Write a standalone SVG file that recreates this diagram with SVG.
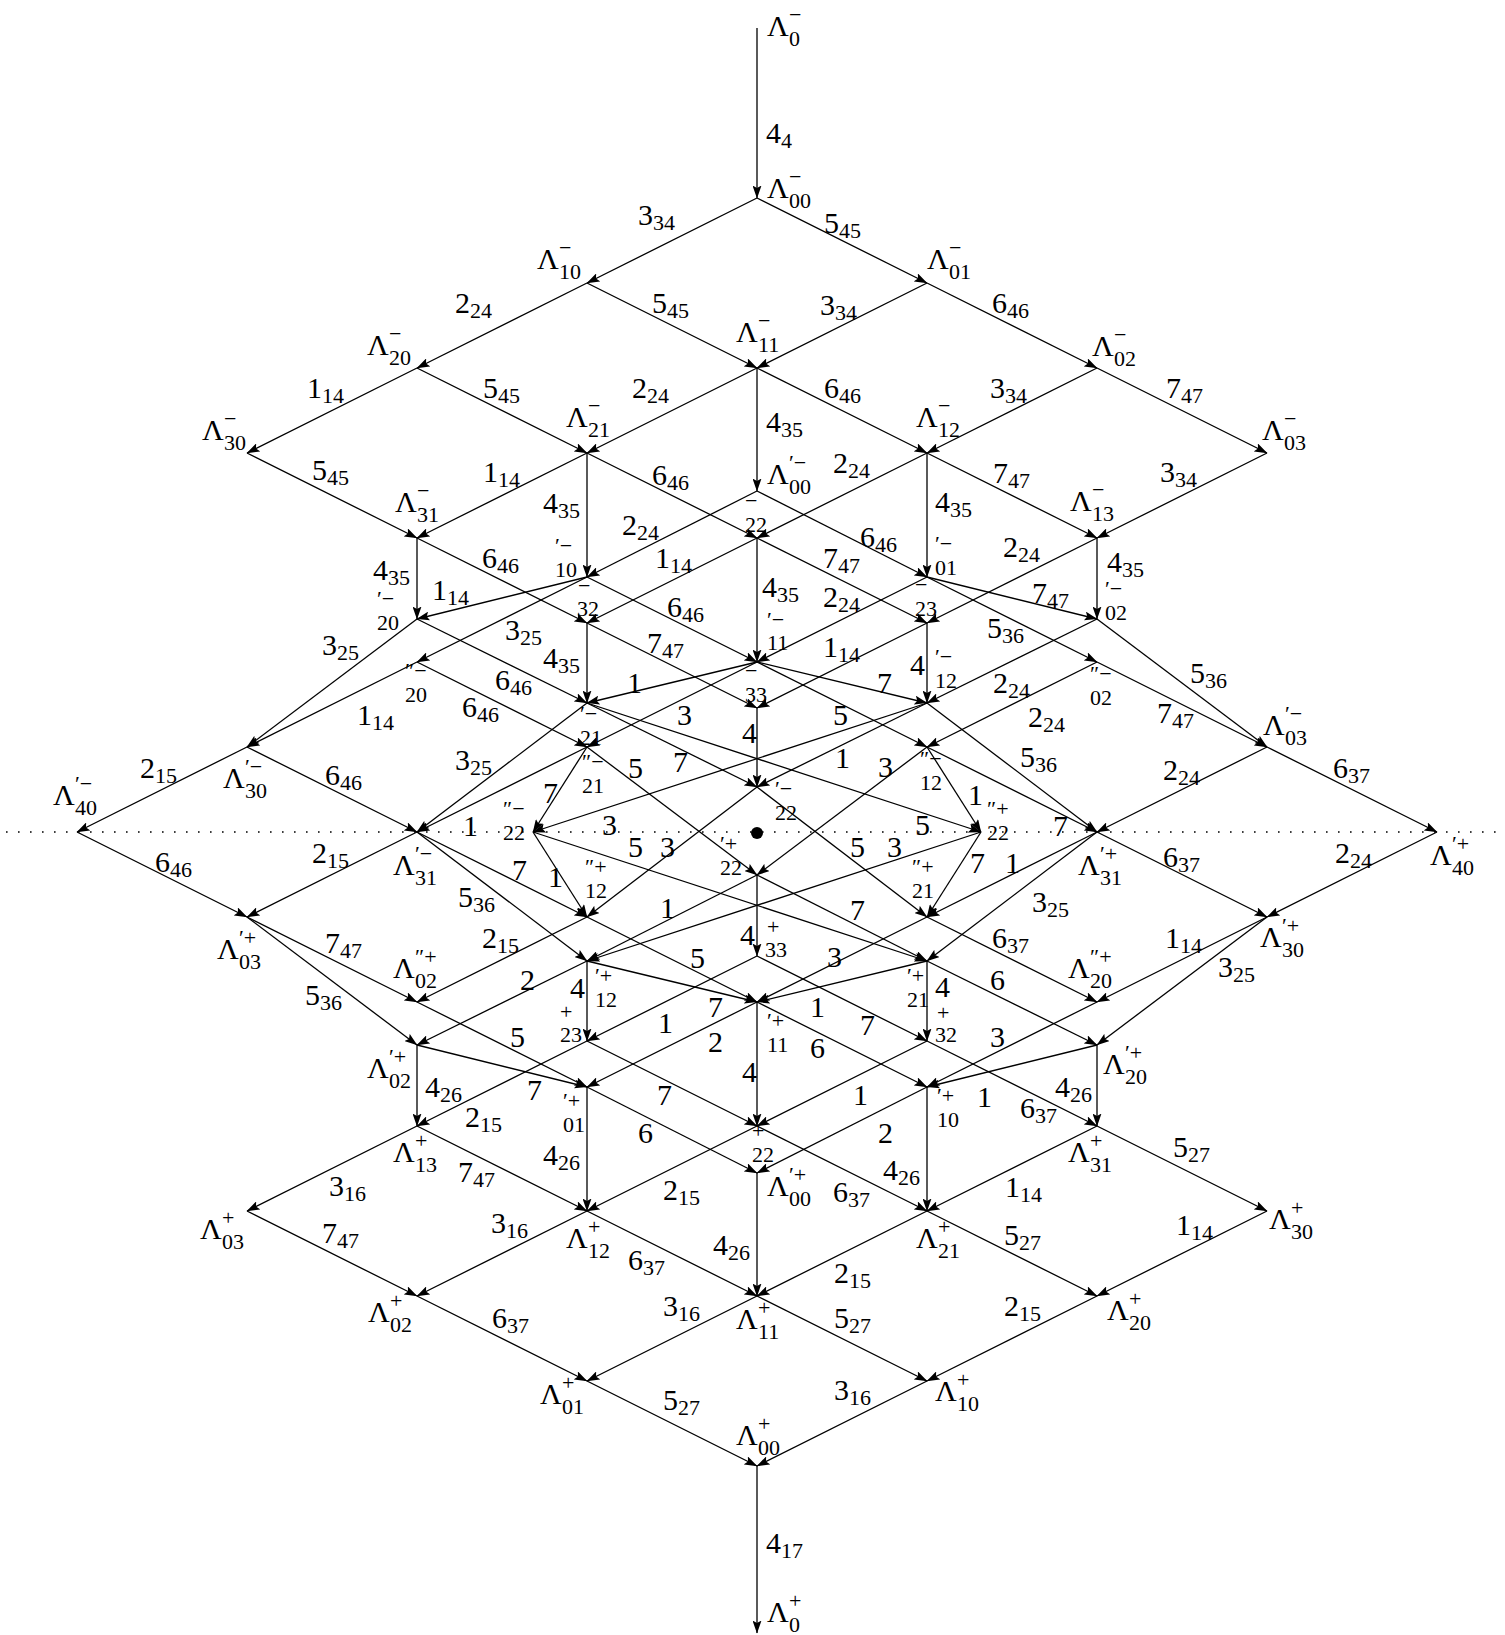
<svg xmlns="http://www.w3.org/2000/svg" width="1505" height="1635" viewBox="0 0 1505 1635" font-family="'Liberation Serif', 'DejaVu Serif', serif">
<style>
text{font-family:"Liberation Serif","DejaVu Serif",serif;fill:#000}
.m{font-size:30px}
.s{font-size:22px}
#edges line{stroke:#000;stroke-width:1.3;marker-end:url(#ah)}
</style>
<defs>
<marker id="ah" markerUnits="userSpaceOnUse" markerWidth="13" markerHeight="9" refX="12.5" refY="4.5" orient="auto" viewBox="0 0 13 9"><path d="M0,0 L13,4.5 L0,9 L2.5,4.5 Z" fill="#000"/></marker>
</defs>
<rect width="1505" height="1635" fill="#fff"/>
<line x1="6" y1="832" x2="1500" y2="832" stroke="#000" stroke-width="1.6" stroke-dasharray="1.6 10.4"/>
<circle cx="757" cy="833" r="6" fill="#000"/>
<g id="edges">
<line x1="757" y1="28" x2="757" y2="198"/>
<line x1="757" y1="198" x2="587" y2="283"/>
<line x1="757" y1="198" x2="927" y2="283"/>
<line x1="587" y1="283" x2="417" y2="368"/>
<line x1="587" y1="283" x2="757" y2="368"/>
<line x1="927" y1="283" x2="757" y2="368"/>
<line x1="927" y1="283" x2="1097" y2="368"/>
<line x1="417" y1="368" x2="247" y2="453"/>
<line x1="417" y1="368" x2="587" y2="453"/>
<line x1="757" y1="368" x2="587" y2="453"/>
<line x1="757" y1="368" x2="927" y2="453"/>
<line x1="1097" y1="368" x2="927" y2="453"/>
<line x1="1097" y1="368" x2="1267" y2="453"/>
<line x1="757" y1="368" x2="757" y2="491"/>
<line x1="247" y1="453" x2="417" y2="538"/>
<line x1="587" y1="453" x2="417" y2="538"/>
<line x1="587" y1="453" x2="757" y2="538"/>
<line x1="927" y1="453" x2="757" y2="538"/>
<line x1="927" y1="453" x2="1097" y2="538"/>
<line x1="1267" y1="453" x2="1097" y2="538"/>
<line x1="587" y1="453" x2="587" y2="577"/>
<line x1="927" y1="453" x2="927" y2="577"/>
<line x1="757" y1="491" x2="587" y2="577"/>
<line x1="757" y1="491" x2="927" y2="577"/>
<line x1="417" y1="538" x2="417" y2="619"/>
<line x1="1097" y1="538" x2="1097" y2="619"/>
<line x1="417" y1="538" x2="587" y2="623"/>
<line x1="1097" y1="538" x2="927" y2="623"/>
<line x1="757" y1="538" x2="587" y2="623"/>
<line x1="757" y1="538" x2="927" y2="623"/>
<line x1="757" y1="538" x2="757" y2="662"/>
<line x1="587" y1="577" x2="417" y2="619"/>
<line x1="927" y1="577" x2="1097" y2="619"/>
<line x1="587" y1="577" x2="757" y2="662"/>
<line x1="927" y1="577" x2="757" y2="662"/>
<line x1="587" y1="577" x2="417" y2="662"/>
<line x1="927" y1="577" x2="1097" y2="662"/>
<line x1="587" y1="623" x2="587" y2="703"/>
<line x1="927" y1="623" x2="927" y2="703"/>
<line x1="587" y1="623" x2="757" y2="708"/>
<line x1="927" y1="623" x2="757" y2="708"/>
<line x1="417" y1="619" x2="587" y2="703"/>
<line x1="1097" y1="619" x2="927" y2="703"/>
<line x1="417" y1="662" x2="587" y2="747"/>
<line x1="1097" y1="662" x2="927" y2="747"/>
<line x1="417" y1="619" x2="247" y2="747"/>
<line x1="417" y1="662" x2="247" y2="747"/>
<line x1="1097" y1="619" x2="1267" y2="747"/>
<line x1="1097" y1="662" x2="1267" y2="747"/>
<line x1="757" y1="662" x2="587" y2="703"/>
<line x1="757" y1="662" x2="927" y2="703"/>
<line x1="757" y1="662" x2="587" y2="747"/>
<line x1="757" y1="662" x2="927" y2="747"/>
<line x1="757" y1="708" x2="757" y2="787"/>
<line x1="587" y1="747" x2="757" y2="875"/>
<line x1="587" y1="703" x2="757" y2="787"/>
<line x1="927" y1="703" x2="757" y2="787"/>
<line x1="927" y1="747" x2="757" y2="875"/>
<line x1="587" y1="703" x2="417" y2="832"/>
<line x1="587" y1="747" x2="417" y2="832"/>
<line x1="587" y1="747" x2="533" y2="832"/>
<line x1="927" y1="703" x2="533" y2="832"/>
<line x1="927" y1="703" x2="1097" y2="832"/>
<line x1="927" y1="747" x2="1097" y2="832"/>
<line x1="927" y1="747" x2="981" y2="832"/>
<line x1="587" y1="703" x2="981" y2="832"/>
<line x1="247" y1="747" x2="417" y2="832"/>
<line x1="247" y1="747" x2="77" y2="832"/>
<line x1="1267" y1="747" x2="1097" y2="832"/>
<line x1="1267" y1="747" x2="1437" y2="832"/>
<line x1="77" y1="832" x2="247" y2="917"/>
<line x1="417" y1="832" x2="247" y2="917"/>
<line x1="417" y1="832" x2="587" y2="917"/>
<line x1="533" y1="832" x2="587" y2="917"/>
<line x1="533" y1="832" x2="927" y2="961"/>
<line x1="757" y1="787" x2="587" y2="917"/>
<line x1="757" y1="787" x2="927" y2="917"/>
<line x1="981" y1="832" x2="587" y2="961"/>
<line x1="981" y1="832" x2="927" y2="917"/>
<line x1="1097" y1="832" x2="927" y2="917"/>
<line x1="1097" y1="832" x2="1267" y2="917"/>
<line x1="1437" y1="832" x2="1267" y2="917"/>
<line x1="417" y1="832" x2="587" y2="961"/>
<line x1="1097" y1="832" x2="927" y2="961"/>
<line x1="757" y1="875" x2="587" y2="961"/>
<line x1="757" y1="875" x2="927" y2="961"/>
<line x1="757" y1="875" x2="757" y2="956"/>
<line x1="587" y1="917" x2="417" y2="1002"/>
<line x1="927" y1="917" x2="1097" y2="1002"/>
<line x1="247" y1="917" x2="417" y2="1002"/>
<line x1="1267" y1="917" x2="1097" y2="1002"/>
<line x1="587" y1="917" x2="757" y2="1002"/>
<line x1="927" y1="917" x2="757" y2="1002"/>
<line x1="587" y1="961" x2="417" y2="1045"/>
<line x1="927" y1="961" x2="1097" y2="1045"/>
<line x1="587" y1="961" x2="587" y2="1041"/>
<line x1="927" y1="961" x2="927" y2="1041"/>
<line x1="247" y1="917" x2="417" y2="1045"/>
<line x1="1267" y1="917" x2="1097" y2="1045"/>
<line x1="417" y1="1002" x2="587" y2="1087"/>
<line x1="1097" y1="1002" x2="927" y2="1087"/>
<line x1="587" y1="961" x2="757" y2="1002"/>
<line x1="927" y1="961" x2="757" y2="1002"/>
<line x1="757" y1="956" x2="587" y2="1041"/>
<line x1="757" y1="956" x2="927" y2="1041"/>
<line x1="757" y1="1002" x2="587" y2="1087"/>
<line x1="757" y1="1002" x2="927" y2="1087"/>
<line x1="417" y1="1045" x2="587" y2="1087"/>
<line x1="1097" y1="1045" x2="927" y2="1087"/>
<line x1="757" y1="1002" x2="757" y2="1126"/>
<line x1="417" y1="1045" x2="417" y2="1126"/>
<line x1="1097" y1="1045" x2="1097" y2="1126"/>
<line x1="587" y1="1041" x2="757" y2="1126"/>
<line x1="927" y1="1041" x2="757" y2="1126"/>
<line x1="927" y1="1041" x2="1097" y2="1126"/>
<line x1="587" y1="1041" x2="417" y2="1126"/>
<line x1="587" y1="1087" x2="757" y2="1173"/>
<line x1="927" y1="1087" x2="757" y2="1173"/>
<line x1="587" y1="1087" x2="587" y2="1211"/>
<line x1="927" y1="1087" x2="927" y2="1211"/>
<line x1="417" y1="1126" x2="587" y2="1211"/>
<line x1="417" y1="1126" x2="247" y2="1211"/>
<line x1="1097" y1="1126" x2="927" y2="1211"/>
<line x1="1097" y1="1126" x2="1267" y2="1211"/>
<line x1="757" y1="1126" x2="587" y2="1211"/>
<line x1="757" y1="1126" x2="927" y2="1211"/>
<line x1="757" y1="1173" x2="757" y2="1296"/>
<line x1="247" y1="1211" x2="417" y2="1296"/>
<line x1="587" y1="1211" x2="417" y2="1296"/>
<line x1="587" y1="1211" x2="757" y2="1296"/>
<line x1="927" y1="1211" x2="757" y2="1296"/>
<line x1="927" y1="1211" x2="1097" y2="1296"/>
<line x1="1267" y1="1211" x2="1097" y2="1296"/>
<line x1="417" y1="1296" x2="587" y2="1381"/>
<line x1="757" y1="1296" x2="587" y2="1381"/>
<line x1="757" y1="1296" x2="927" y2="1381"/>
<line x1="1097" y1="1296" x2="927" y2="1381"/>
<line x1="587" y1="1381" x2="757" y2="1466"/>
<line x1="927" y1="1381" x2="757" y2="1466"/>
<line x1="757" y1="1466" x2="757" y2="1633"/>
</g>
<g id="edge-labels" class="m">
<text x="766" y="143">4<tspan class="s" dy="5">4</tspan></text>
<text x="638" y="225">3<tspan class="s" dy="5">34</tspan></text>
<text x="824" y="233">5<tspan class="s" dy="5">45</tspan></text>
<text x="455" y="313">2<tspan class="s" dy="5">24</tspan></text>
<text x="652" y="313">5<tspan class="s" dy="5">45</tspan></text>
<text x="820" y="315">3<tspan class="s" dy="5">34</tspan></text>
<text x="992" y="313">6<tspan class="s" dy="5">46</tspan></text>
<text x="307" y="398">1<tspan class="s" dy="5">14</tspan></text>
<text x="483" y="398">5<tspan class="s" dy="5">45</tspan></text>
<text x="632" y="398">2<tspan class="s" dy="5">24</tspan></text>
<text x="824" y="398">6<tspan class="s" dy="5">46</tspan></text>
<text x="990" y="398">3<tspan class="s" dy="5">34</tspan></text>
<text x="1166" y="398">7<tspan class="s" dy="5">47</tspan></text>
<text x="766" y="432">4<tspan class="s" dy="5">35</tspan></text>
<text x="312" y="480">5<tspan class="s" dy="5">45</tspan></text>
<text x="483" y="482">1<tspan class="s" dy="5">14</tspan></text>
<text x="652" y="485">6<tspan class="s" dy="5">46</tspan></text>
<text x="833" y="473">2<tspan class="s" dy="5">24</tspan></text>
<text x="993" y="483">7<tspan class="s" dy="5">47</tspan></text>
<text x="1160" y="482">3<tspan class="s" dy="5">34</tspan></text>
<text x="543" y="513">4<tspan class="s" dy="5">35</tspan></text>
<text x="935" y="512">4<tspan class="s" dy="5">35</tspan></text>
<text x="622" y="535">2<tspan class="s" dy="5">24</tspan></text>
<text x="860" y="547">6<tspan class="s" dy="5">46</tspan></text>
<text x="373" y="580">4<tspan class="s" dy="5">35</tspan></text>
<text x="1107" y="572">4<tspan class="s" dy="5">35</tspan></text>
<text x="482" y="568">6<tspan class="s" dy="5">46</tspan></text>
<text x="1003" y="557">2<tspan class="s" dy="5">24</tspan></text>
<text x="655" y="568">1<tspan class="s" dy="5">14</tspan></text>
<text x="823" y="568">7<tspan class="s" dy="5">47</tspan></text>
<text x="762" y="597">4<tspan class="s" dy="5">35</tspan></text>
<text x="432" y="600">1<tspan class="s" dy="5">14</tspan></text>
<text x="1032" y="603">7<tspan class="s" dy="5">47</tspan></text>
<text x="667" y="617">6<tspan class="s" dy="5">46</tspan></text>
<text x="823" y="607">2<tspan class="s" dy="5">24</tspan></text>
<text x="505" y="640">3<tspan class="s" dy="5">25</tspan></text>
<text x="987" y="638">5<tspan class="s" dy="5">36</tspan></text>
<text x="543" y="668">4<tspan class="s" dy="5">35</tspan></text>
<text x="910" y="675">4</text>
<text x="647" y="653">7<tspan class="s" dy="5">47</tspan></text>
<text x="823" y="657">1<tspan class="s" dy="5">14</tspan></text>
<text x="495" y="690">6<tspan class="s" dy="5">46</tspan></text>
<text x="993" y="693">2<tspan class="s" dy="5">24</tspan></text>
<text x="462" y="717">6<tspan class="s" dy="5">46</tspan></text>
<text x="1028" y="727">2<tspan class="s" dy="5">24</tspan></text>
<text x="322" y="655">3<tspan class="s" dy="5">25</tspan></text>
<text x="357" y="725">1<tspan class="s" dy="5">14</tspan></text>
<text x="1190" y="683">5<tspan class="s" dy="5">36</tspan></text>
<text x="1157" y="723">7<tspan class="s" dy="5">47</tspan></text>
<text x="627" y="693">1</text>
<text x="877" y="693">7</text>
<text x="677" y="725">3</text>
<text x="833" y="725">5</text>
<text x="742" y="743">4</text>
<text x="628" y="778">5</text>
<text x="673" y="772">7</text>
<text x="835" y="768">1</text>
<text x="878" y="777">3</text>
<text x="455" y="770">3<tspan class="s" dy="5">25</tspan></text>
<text x="463" y="836">1</text>
<text x="543" y="803">7</text>
<text x="602" y="835">3</text>
<text x="1020" y="767">5<tspan class="s" dy="5">36</tspan></text>
<text x="1053" y="836">7</text>
<text x="968" y="805">1</text>
<text x="915" y="835">5</text>
<text x="325" y="785">6<tspan class="s" dy="5">46</tspan></text>
<text x="140" y="778">2<tspan class="s" dy="5">15</tspan></text>
<text x="1163" y="780">2<tspan class="s" dy="5">24</tspan></text>
<text x="1333" y="778">6<tspan class="s" dy="5">37</tspan></text>
<text x="155" y="872">6<tspan class="s" dy="5">46</tspan></text>
<text x="312" y="863">2<tspan class="s" dy="5">15</tspan></text>
<text x="512" y="880">7</text>
<text x="548" y="887">1</text>
<text x="628" y="857">5</text>
<text x="660" y="857">3</text>
<text x="850" y="857">5</text>
<text x="887" y="857">3</text>
<text x="970" y="873">7</text>
<text x="1005" y="873">1</text>
<text x="1163" y="867">6<tspan class="s" dy="5">37</tspan></text>
<text x="1335" y="863">2<tspan class="s" dy="5">24</tspan></text>
<text x="458" y="907">5<tspan class="s" dy="5">36</tspan></text>
<text x="1032" y="912">3<tspan class="s" dy="5">25</tspan></text>
<text x="660" y="918">1</text>
<text x="850" y="920">7</text>
<text x="740" y="945">4</text>
<text x="482" y="948">2<tspan class="s" dy="5">15</tspan></text>
<text x="992" y="948">6<tspan class="s" dy="5">37</tspan></text>
<text x="325" y="953">7<tspan class="s" dy="5">47</tspan></text>
<text x="1165" y="948">1<tspan class="s" dy="5">14</tspan></text>
<text x="690" y="968">5</text>
<text x="827" y="967">3</text>
<text x="520" y="990">2</text>
<text x="990" y="990">6</text>
<text x="570" y="998">4</text>
<text x="935" y="997">4</text>
<text x="305" y="1005">5<tspan class="s" dy="5">36</tspan></text>
<text x="1218" y="977">3<tspan class="s" dy="5">25</tspan></text>
<text x="510" y="1047">5</text>
<text x="990" y="1047">3</text>
<text x="708" y="1017">7</text>
<text x="810" y="1017">1</text>
<text x="658" y="1033">1</text>
<text x="860" y="1035">7</text>
<text x="708" y="1052">2</text>
<text x="810" y="1058">6</text>
<text x="527" y="1100">7</text>
<text x="977" y="1107">1</text>
<text x="742" y="1082">4</text>
<text x="425" y="1097">4<tspan class="s" dy="5">26</tspan></text>
<text x="1055" y="1097">4<tspan class="s" dy="5">26</tspan></text>
<text x="657" y="1105">7</text>
<text x="853" y="1105">1</text>
<text x="1020" y="1118">6<tspan class="s" dy="5">37</tspan></text>
<text x="465" y="1127">2<tspan class="s" dy="5">15</tspan></text>
<text x="638" y="1143">6</text>
<text x="878" y="1143">2</text>
<text x="543" y="1165">4<tspan class="s" dy="5">26</tspan></text>
<text x="883" y="1180">4<tspan class="s" dy="5">26</tspan></text>
<text x="458" y="1182">7<tspan class="s" dy="5">47</tspan></text>
<text x="329" y="1196">3<tspan class="s" dy="5">16</tspan></text>
<text x="1005" y="1197">1<tspan class="s" dy="5">14</tspan></text>
<text x="1173" y="1157">5<tspan class="s" dy="5">27</tspan></text>
<text x="663" y="1200">2<tspan class="s" dy="5">15</tspan></text>
<text x="833" y="1202">6<tspan class="s" dy="5">37</tspan></text>
<text x="713" y="1255">4<tspan class="s" dy="5">26</tspan></text>
<text x="322" y="1243">7<tspan class="s" dy="5">47</tspan></text>
<text x="491" y="1233">3<tspan class="s" dy="5">16</tspan></text>
<text x="628" y="1270">6<tspan class="s" dy="5">37</tspan></text>
<text x="834" y="1283">2<tspan class="s" dy="5">15</tspan></text>
<text x="1004" y="1245">5<tspan class="s" dy="5">27</tspan></text>
<text x="1176" y="1235">1<tspan class="s" dy="5">14</tspan></text>
<text x="492" y="1328">6<tspan class="s" dy="5">37</tspan></text>
<text x="663" y="1316">3<tspan class="s" dy="5">16</tspan></text>
<text x="834" y="1328">5<tspan class="s" dy="5">27</tspan></text>
<text x="1004" y="1316">2<tspan class="s" dy="5">15</tspan></text>
<text x="663" y="1410">5<tspan class="s" dy="5">27</tspan></text>
<text x="834" y="1400">3<tspan class="s" dy="5">16</tspan></text>
<text x="766" y="1553">4<tspan class="s" dy="5">17</tspan></text>
</g>
<g id="n0m"><text class="m" x="767" y="36">Λ</text><text class="s" x="789" y="46">0</text><text class="s" x="789" y="22">−</text></g>
<g id="n00m"><text class="m" x="767" y="198">Λ</text><text class="s" x="789" y="208">00</text><text class="s" x="789" y="184">−</text></g>
<g id="n10m"><text class="m" x="537" y="269">Λ</text><text class="s" x="559" y="279">10</text><text class="s" x="559" y="255">−</text></g>
<g id="n01m"><text class="m" x="927" y="269">Λ</text><text class="s" x="949" y="279">01</text><text class="s" x="949" y="255">−</text></g>
<g id="n20m"><text class="m" x="367" y="355">Λ</text><text class="s" x="389" y="365">20</text><text class="s" x="389" y="341">−</text></g>
<g id="n11m"><text class="m" x="736" y="342">Λ</text><text class="s" x="758" y="352">11</text><text class="s" x="758" y="328">−</text></g>
<g id="n02m"><text class="m" x="1092" y="356">Λ</text><text class="s" x="1114" y="366">02</text><text class="s" x="1114" y="342">−</text></g>
<g id="n30m"><text class="m" x="202" y="440">Λ</text><text class="s" x="224" y="450">30</text><text class="s" x="224" y="426">−</text></g>
<g id="n21m"><text class="m" x="566" y="427">Λ</text><text class="s" x="588" y="437">21</text><text class="s" x="588" y="413">−</text></g>
<g id="n12m"><text class="m" x="916" y="427">Λ</text><text class="s" x="938" y="437">12</text><text class="s" x="938" y="413">−</text></g>
<g id="n03m"><text class="m" x="1262" y="440">Λ</text><text class="s" x="1284" y="450">03</text><text class="s" x="1284" y="426">−</text></g>
<g id="nP00m"><text class="m" x="767" y="484">Λ</text><text class="s" x="789" y="494">00</text><text class="s" x="789" y="470">′−</text></g>
<g id="n31m"><text class="m" x="395" y="512">Λ</text><text class="s" x="417" y="522">31</text><text class="s" x="417" y="498">−</text></g>
<g id="n22m"><text class="s" x="745" y="532">22</text><text class="s" x="745" y="508">−</text></g>
<g id="n13m"><text class="m" x="1070" y="511">Λ</text><text class="s" x="1092" y="521">13</text><text class="s" x="1092" y="497">−</text></g>
<g id="nP10m"><text class="s" x="555" y="577">10</text><text class="s" x="555" y="553">′−</text></g>
<g id="nP01m"><text class="s" x="935" y="575">01</text><text class="s" x="935" y="551">′−</text></g>
<g id="n32m"><text class="s" x="577" y="616">32</text><text class="s" x="578" y="593">−</text></g>
<g id="nP20m"><text class="s" x="377" y="630">20</text><text class="s" x="377" y="606">′−</text></g>
<g id="nP11m"><text class="s" x="767" y="650">11</text><text class="s" x="767" y="627">′−</text></g>
<g id="n23m"><text class="s" x="915" y="616">23</text><text class="s" x="915" y="592">−</text></g>
<g id="nP02m"><text class="s" x="1105" y="620">02</text><text class="s" x="1105" y="596">′−</text></g>
<g id="nQ20m"><text class="s" x="405" y="702">20</text><text class="s" x="405" y="678">″−</text></g>
<g id="nQ02m"><text class="s" x="1090" y="705">02</text><text class="s" x="1090" y="681">″−</text></g>
<g id="n33m"><text class="s" x="745" y="702">33</text><text class="s" x="745" y="678">−</text></g>
<g id="nP21m"><text class="s" x="580" y="745">21</text><text class="s" x="580" y="721">′−</text></g>
<g id="nP12m"><text class="s" x="935" y="688">12</text><text class="s" x="935" y="664">′−</text></g>
<g id="nQ21m"><text class="s" x="582" y="793">21</text><text class="s" x="582" y="769">″−</text></g>
<g id="nQ12m"><text class="s" x="920" y="790">12</text><text class="s" x="920" y="766">″−</text></g>
<g id="nP22m"><text class="s" x="775" y="820">22</text><text class="s" x="775" y="796">′−</text></g>
<g id="nP30m"><text class="m" x="223" y="788">Λ</text><text class="s" x="245" y="798">30</text><text class="s" x="245" y="774">′−</text></g>
<g id="nP40m"><text class="m" x="53" y="805">Λ</text><text class="s" x="75" y="815">40</text><text class="s" x="75" y="791">′−</text></g>
<g id="nP03m"><text class="m" x="1263" y="735">Λ</text><text class="s" x="1285" y="745">03</text><text class="s" x="1285" y="721">′−</text></g>
<g id="nP31m"><text class="m" x="393" y="875">Λ</text><text class="s" x="415" y="885">31</text><text class="s" x="415" y="861">′−</text></g>
<g id="nQ22m"><text class="s" x="503" y="840">22</text><text class="s" x="503" y="816">″−</text></g>
<g id="nQ22p"><text class="s" x="987" y="840">22</text><text class="s" x="987" y="816">″+</text></g>
<g id="nP31p"><text class="m" x="1078" y="875">Λ</text><text class="s" x="1100" y="885">31</text><text class="s" x="1100" y="861">′+</text></g>
<g id="nP40p"><text class="m" x="1430" y="865">Λ</text><text class="s" x="1452" y="875">40</text><text class="s" x="1452" y="851">′+</text></g>
<g id="nP03p"><text class="m" x="217" y="959">Λ</text><text class="s" x="239" y="969">03</text><text class="s" x="239" y="945">′+</text></g>
<g id="nP30p"><text class="m" x="1260" y="947">Λ</text><text class="s" x="1282" y="957">30</text><text class="s" x="1282" y="933">′+</text></g>
<g id="nQ02p"><text class="m" x="393" y="978">Λ</text><text class="s" x="415" y="988">02</text><text class="s" x="415" y="964">″+</text></g>
<g id="nQ20p"><text class="m" x="1068" y="978">Λ</text><text class="s" x="1090" y="988">20</text><text class="s" x="1090" y="964">″+</text></g>
<g id="nQ12p"><text class="s" x="585" y="898">12</text><text class="s" x="585" y="874">″+</text></g>
<g id="nQ21p"><text class="s" x="912" y="898">21</text><text class="s" x="912" y="874">″+</text></g>
<g id="nP22p"><text class="s" x="720" y="875">22</text><text class="s" x="720" y="851">′+</text></g>
<g id="n33p"><text class="s" x="765" y="957">33</text><text class="s" x="767" y="934">+</text></g>
<g id="nP12p"><text class="s" x="595" y="1007">12</text><text class="s" x="595" y="983">′+</text></g>
<g id="nP21p"><text class="s" x="907" y="1007">21</text><text class="s" x="907" y="983">′+</text></g>
<g id="n23p"><text class="s" x="560" y="1042">23</text><text class="s" x="560" y="1019">+</text></g>
<g id="n32p"><text class="s" x="935" y="1042">32</text><text class="s" x="937" y="1020">+</text></g>
<g id="nP11p"><text class="s" x="767" y="1052">11</text><text class="s" x="767" y="1028">′+</text></g>
<g id="nP02p"><text class="m" x="367" y="1078">Λ</text><text class="s" x="389" y="1088">02</text><text class="s" x="389" y="1064">′+</text></g>
<g id="nP20p"><text class="m" x="1103" y="1074">Λ</text><text class="s" x="1125" y="1084">20</text><text class="s" x="1125" y="1060">′+</text></g>
<g id="nP01p"><text class="s" x="563" y="1132">01</text><text class="s" x="563" y="1108">′+</text></g>
<g id="nP10p"><text class="s" x="937" y="1127">10</text><text class="s" x="937" y="1103">′+</text></g>
<g id="n22p"><text class="s" x="752" y="1162">22</text><text class="s" x="752" y="1138">+</text></g>
<g id="nP00p"><text class="m" x="767" y="1196">Λ</text><text class="s" x="789" y="1206">00</text><text class="s" x="789" y="1182">′+</text></g>
<g id="n13p"><text class="m" x="393" y="1162">Λ</text><text class="s" x="415" y="1172">13</text><text class="s" x="415" y="1148">+</text></g>
<g id="n31p"><text class="m" x="1068" y="1162">Λ</text><text class="s" x="1090" y="1172">31</text><text class="s" x="1090" y="1148">+</text></g>
<g id="n03p"><text class="m" x="200" y="1239">Λ</text><text class="s" x="222" y="1249">03</text><text class="s" x="222" y="1225">+</text></g>
<g id="n30p"><text class="m" x="1269" y="1229">Λ</text><text class="s" x="1291" y="1239">30</text><text class="s" x="1291" y="1215">+</text></g>
<g id="n12p"><text class="m" x="566" y="1248">Λ</text><text class="s" x="588" y="1258">12</text><text class="s" x="588" y="1234">+</text></g>
<g id="n21p"><text class="m" x="916" y="1248">Λ</text><text class="s" x="938" y="1258">21</text><text class="s" x="938" y="1234">+</text></g>
<g id="n02p"><text class="m" x="368" y="1322">Λ</text><text class="s" x="390" y="1332">02</text><text class="s" x="390" y="1308">+</text></g>
<g id="n11p"><text class="m" x="736" y="1329">Λ</text><text class="s" x="758" y="1339">11</text><text class="s" x="758" y="1315">+</text></g>
<g id="n20p"><text class="m" x="1107" y="1320">Λ</text><text class="s" x="1129" y="1330">20</text><text class="s" x="1129" y="1306">+</text></g>
<g id="n01p"><text class="m" x="540" y="1404">Λ</text><text class="s" x="562" y="1414">01</text><text class="s" x="562" y="1390">+</text></g>
<g id="n10p"><text class="m" x="935" y="1401">Λ</text><text class="s" x="957" y="1411">10</text><text class="s" x="957" y="1387">+</text></g>
<g id="n00p"><text class="m" x="736" y="1445">Λ</text><text class="s" x="758" y="1455">00</text><text class="s" x="758" y="1431">+</text></g>
<g id="n0p"><text class="m" x="767" y="1622">Λ</text><text class="s" x="789" y="1632">0</text><text class="s" x="789" y="1608">+</text></g>
</svg>
